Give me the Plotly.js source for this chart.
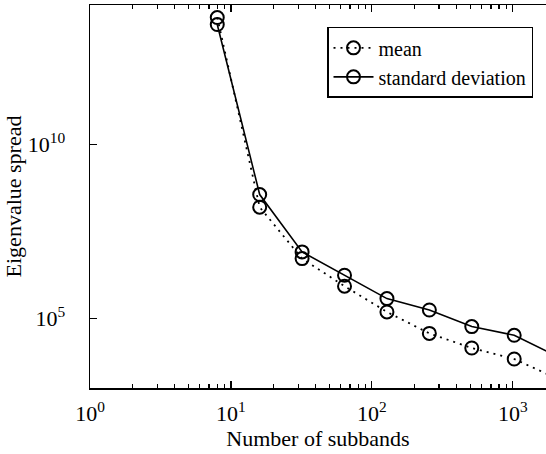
<!DOCTYPE html>
<html>
<head>
<meta charset="utf-8">
<script src="https://cdn.plot.ly/plotly-3.0.1.min.js"></script>
<style>
html,body{margin:0;padding:0;background:#fff;}
#chart{width:546px;height:454px;}
</style>
</head>
<body>
<div id="chart"></div>
<script>
const subbands = [8, 16, 32, 64, 128, 256, 512, 1024, 2048];
const meanSpread = [4.37e13, 1.56e8, 5.2e6, 8.4e5, 1.53e5, 3.7e4, 1.41e4, 6.8e3, 1.89e3];
const stdSpread = [2.75e13, 3.6e8, 8.1e6, 1.73e6, 3.7e5, 1.74e5, 5.8e4, 3.27e4, 8.2e3];
const xTickVals = [1, 10, 100, 1000];
const xTickText = ['10<sup>0</sup>', '10<sup>1</sup>', '10<sup>2</sup>', '10<sup>3</sup>'];
const xMinorVals = [2,3,4,5,6,7,8,9,20,30,40,50,60,70,80,90,200,300,400,500,600,700,800,900,2000];
const yTickVals = [1e5, 1e10];
const yTickText = ['10<sup>5</sup>', '10<sup>10</sup>'];

const font = 'Liberation Serif, serif';
const traces = [
  {x: subbands, y: meanSpread, name: 'mean', type: 'scatter', mode: 'lines+markers',
   line: {color: '#000000', width: 1.8, dash: '2px,5px'},
   marker: {symbol: 'circle-open', size: 13, color: '#000000', line: {width: 2, color: '#000000'}}},
  {x: subbands, y: stdSpread, name: 'standard deviation', type: 'scatter', mode: 'lines+markers',
   line: {color: '#000000', width: 1.6},
   marker: {symbol: 'circle-open', size: 13, color: '#000000', line: {width: 2, color: '#000000'}}}
];
const layout = {
  width: 546, height: 454,
  margin: {l: 90, r: 0, t: 5, b: 66},
  paper_bgcolor: '#ffffff', plot_bgcolor: '#ffffff',
  font: {family: font, color: '#000000', size: 20},
  showlegend: true,
  legend: {x: 0.9715, y: 0.943, xanchor: 'right', yanchor: 'top',
    bgcolor: '#ffffff', bordercolor: '#000000', borderwidth: 1.5, itemwidth: 40,
    font: {family: font, size: 20, color: '#000000'}, tracegroupgap: 0},
  xaxis: {type: 'log', range: [0, 3.236], showgrid: false, zeroline: false,
    showline: true, linecolor: '#000000', linewidth: 1.5, mirror: 'ticks',
    ticks: 'inside', ticklen: 7, tickwidth: 1.2, tickcolor: '#000000',
    tickmode: 'array', tickvals: xTickVals, ticktext: xTickText,
    ticklabelstandoff: 5,
    tickfont: {family: font, size: 22, color: '#000000'},
    minor: {tickmode: 'array', tickvals: xMinorVals, ticks: 'inside', ticklen: 4, tickwidth: 1.2, tickcolor: '#000000', showgrid: false},
    title: {text: 'Number of subbands', font: {family: font, size: 22, color: '#000000'}, standoff: 2}},
  yaxis: {type: 'log', range: [3, 14], showgrid: false, zeroline: false,
    showline: true, linecolor: '#000000', linewidth: 1.5, mirror: false,
    ticks: 'inside', ticklen: 7, tickwidth: 1.2, tickcolor: '#000000',
    tickmode: 'array', tickvals: yTickVals, ticktext: yTickText,
    ticklabelstandoff: 19,
    tickfont: {family: font, size: 22, color: '#000000'},
    title: {text: 'Eigenvalue spread', font: {family: font, size: 22, color: '#000000'}, standoff: 0}}
};
Plotly.newPlot('chart', traces, layout, {displayModeBar: false, staticPlot: true});
</script>
</body>
</html>
